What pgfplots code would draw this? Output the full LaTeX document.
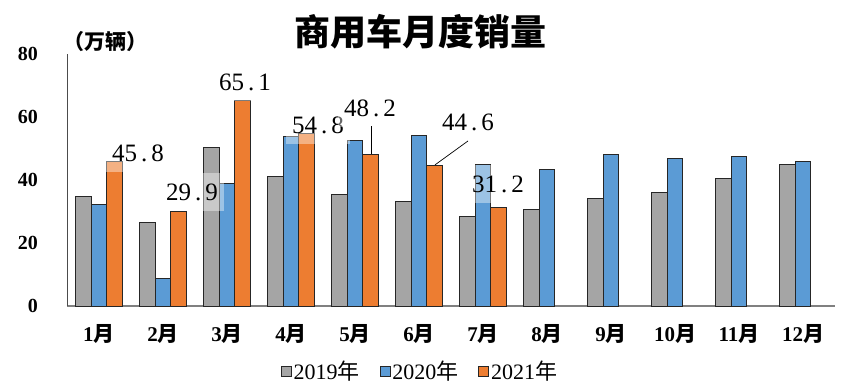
\documentclass[border=0pt]{standalone}
\usepackage{fontspec}
\setmainfont{Liberation Serif}
\newfontfamily\cjk{Noto Sans CJK SC}
\usepackage{pgfplots}
\pgfplotsset{compat=1.18}
\usetikzlibrary{calc}
\definecolor{cgray}{HTML}{A5A5A5}
\definecolor{cblue}{HTML}{5B9BD5}
\definecolor{corange}{HTML}{ED7D31}
\newcommand\yue{{\cjk 月}}
\newcommand\nian{{\cjk 年}}
\tikzset{lbl/.style={font=\fontsize{25}{25}\selectfont, fill=white, fill opacity=0.4, text opacity=1, inner xsep=6pt, minimum height=38pt}}
\begin{document}
\begin{tikzpicture}
\begin{axis}[name=ax,
  scale only axis, width=768pt, height=252pt,
  xmin=-0.5, xmax=11.5, ymin=0, ymax=80,
  ybar=0pt, bar width=15.5pt,
  ytick={0,20,40,60,80},
  yticklabels={0,20,40,60,80},
  /pgf/number format/assume math mode=true,
  xtick={0,...,11},
  xticklabels={1\yue,2\yue,3\yue,4\yue,5\yue,6\yue,7\yue,8\yue,9\yue,10\yue,11\yue,12\yue},
  axis x line*=bottom, axis y line*=left,
  x axis line style={-, draw=black!50, line width=2pt},
  y axis line style={-, draw=black!70, line width=0.8pt},
  major tick length=0pt,
  tick style={draw=none},
  yticklabel style={font=\bfseries\fontsize{20}{20}\selectfont, anchor=east, inner sep=0pt, xshift=-29pt},
  xticklabel style={font=\bfseries\fontsize{21}{21}\selectfont, anchor=center, inner sep=0pt, yshift=-28pt},
  clip=false,
  legend style={at={(0.4596,-0.258)}, anchor=center, draw=none, fill=none,
    legend columns=3, font=\fontsize{22}{22}\selectfont,
    /tikz/every even column/.append style={column sep=18pt}},
  legend image code/.code={\draw[#1, line width=0.8pt] (0pt,-5pt) rectangle (10pt,5pt);},
]
\addplot[fill=cgray, draw=black!85, line width=0.9pt] coordinates {
 (0,34.9) (1,26.5) (2,50.4) (3,41.0) (4,35.4) (5,33.1) (6,28.3) (7,30.7) (8,34.2) (9,36.0) (10,40.4) (11,44.9)};
\addplot[fill=cblue, draw=black!85, line width=0.9pt] coordinates {
 (0,32.3) (1,8.8) (2,38.9) (3,53.8) (4,52.5) (5,54.0) (6,45.0) (7,43.4) (8,48.0) (9,46.7) (10,47.5) (11,45.9)};
\addplot[fill=corange, draw=black!85, line width=0.9pt] coordinates {
 (0,45.8) (1,29.9) (2,65.1) (3,54.8) (4,48.2) (5,44.6) (6,31.2)};
\legend{2019\nian,2020\nian,2021\nian}
\node[lbl] at (axis cs:0.609,48.6) {45\kern4pt.\kern4pt8};
\node[lbl] at (axis cs:1.453,36.2) {29\kern4pt.\kern4pt9};
\node[lbl] at (axis cs:2.281,71.1) {65\kern4pt.\kern4pt1};
\node[lbl] at (axis cs:3.422,57.5) {54\kern4pt.\kern4pt8};
\node[lbl] at (axis cs:4.234,62.9) {48\kern4pt.\kern4pt2};
\node[lbl] at (axis cs:5.766,58.4) {44\kern4pt.\kern4pt6};
\node[lbl] at (axis cs:6.234,38.7) {31\kern4pt.\kern4pt2};
\draw[black, line width=0.7pt] (axis cs:4.25,57.1) -- (axis cs:4.25,48.4);
\draw[black, line width=0.7pt] (axis cs:5.766,52.4) -- (axis cs:5.25,44.8);
\end{axis}
\node[font=\cjk\bfseries\fontsize{36}{36}\selectfont] at ($(ax.south west)+(353pt,274pt)$) {商用车月度销量};
\node[font=\cjk\bfseries\fontsize{21}{21}\selectfont] at ($(ax.south west)+(38pt,264pt)$) {（万辆）};
\pgfresetboundingbox
\path ($(ax.south west)+(-67pt,-80pt)$) rectangle ($(ax.south west)+(789pt,306pt)$);
\end{tikzpicture}
\end{document}
